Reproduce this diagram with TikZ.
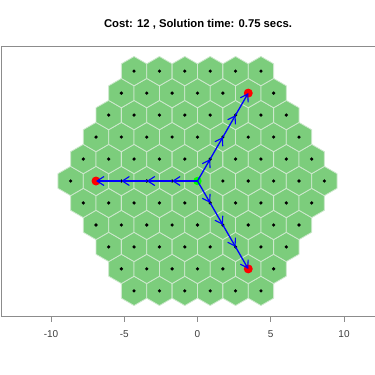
\documentclass[tikz,border=0pt]{standalone}
\usepackage{fontspec}
\setmainfont{Liberation Sans}
\usetikzlibrary{arrows.meta}
\definecolor{hexfill}{RGB}{124,205,124}
\definecolor{hexline}{RGB}{205,232,205}
\definecolor{boxgray}{RGB}{140,140,140}
\definecolor{ticktxt}{RGB}{60,60,60}
\tikzset{
  hexcell/.style={fill=hexfill, draw=hexline, line width=0.8pt},
  celldot/.style={fill=black},
  pathline/.style={draw=blue, line width=1.3pt, -{Straight Barb[length=7pt,width=9pt,line width=1.1pt]}},
  framebox/.style={draw=boxgray, line width=1pt},
  ticklabel/.style={font=\fontsize{10}{12}\selectfont, text=ticktxt},
  titletext/.style={font=\fontsize{11.3}{13}\selectfont\bfseries}
}
\begin{document}
\begin{tikzpicture}[x=1pt,y=-1pt]
\useasboundingbox (0,0) rectangle (375,375);
% frame
\draw[framebox] (376,46) -- (1,46) -- (1,316) -- (376,316);
% ticks
\foreach \t/\px in {-10/51,-5/124.25,0/197.5,5/270.75,10/344}{
  \draw[framebox] (\px,316) -- (\px,322);
  \node[ticklabel] (tl\t) at (\px,334) {\t};
}
\node[titletext] (title) at (198,24) {Cost: 12 , Solution time: 0.75 secs.};
\begin{scope}[shift={(197.5,181)}, x=14.65pt, y=14.65pt]
  \foreach \r in {-5,...,5}{
    \pgfmathtruncatemacro\n{10-abs(\r)}
    \foreach \k in {0,...,\n}{
      \pgfmathsetmacro\cx{1.7320508*(\k-\n/2)}
      \pgfmathsetmacro\cy{1.5*\r}
      \path[hexcell] (\cx,\cy) +(30:1) -- +(90:1) -- +(150:1) -- +(210:1) -- +(270:1) -- +(330:1) -- cycle;
    }
  }
  \foreach \r in {-5,...,5}{
    \pgfmathtruncatemacro\n{10-abs(\r)}
    \foreach \k in {0,...,\n}{
      \pgfmathsetmacro\cx{1.7320508*(\k-\n/2)}
      \pgfmathsetmacro\cy{1.5*\r}
      \fill[celldot] (\cx,\cy) circle[radius=1.8pt];
    }
  }
  % path coordinates
  \coordinate (c0) at (0,0);
  \foreach \i in {1,...,4}{
    \coordinate (l\i) at ({-1.7320508*\i},0);
    \coordinate (u\i) at ({0.8660254*\i},{1.5*\i});
    \coordinate (d\i) at ({0.8660254*\i},{-1.5*\i});
  }
  \fill[red] (l4) circle[radius=4.5pt];
  \fill[red] (u4) circle[radius=4.5pt];
  \fill[red] (d4) circle[radius=4.5pt];
  \fill[green] (c0) circle[radius=4.2pt];
  \foreach \p in {l,u,d}{
    \draw[pathline] (c0) -- (\p1);
    \draw[pathline] (\p1) -- (\p2);
    \draw[pathline] (\p2) -- (\p3);
    \draw[pathline] (\p3) -- (\p4);
  }
\end{scope}
\end{tikzpicture}
\end{document}
